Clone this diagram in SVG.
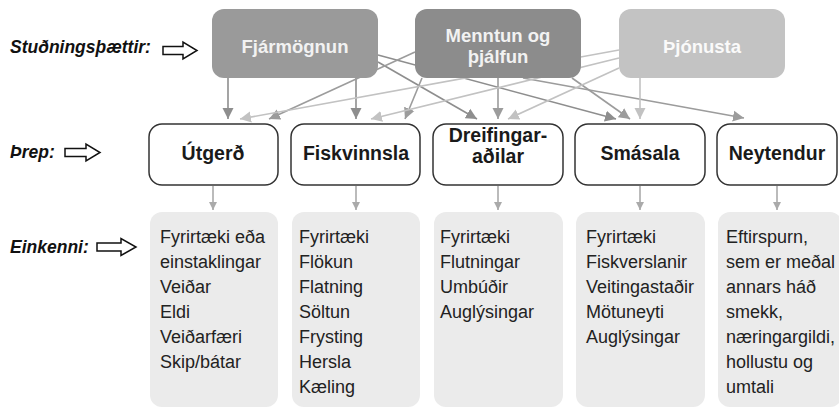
<svg xmlns="http://www.w3.org/2000/svg" width="839" height="409" viewBox="0 0 839 409">
<style>
.lbl{font-family:"Liberation Sans",Arial,sans-serif;font-weight:bold;font-style:italic;font-size:17.5px;fill:#111}
.top{font-family:"Liberation Sans",Arial,sans-serif;font-weight:bold;font-size:18.5px;fill:#f2f2f2;text-anchor:middle}
.mid{font-family:"Liberation Sans",Arial,sans-serif;font-weight:bold;font-size:19.5px;fill:#1a1a1a;text-anchor:middle}
.bot{font-family:"Liberation Sans",Arial,sans-serif;font-size:18px;fill:#222}
.midbox{fill:#fff;stroke:#333;stroke-width:1.5}
.botbox{fill:#ebebeb}
.hollow{fill:#fff;stroke:#111;stroke-width:1.5;stroke-linejoin:miter}
.c1{stroke:#8e8e8e;stroke-width:1.6;fill:none;marker-end:url(#a1)}
.c2{stroke:#9c9c9c;stroke-width:1.6;fill:none;marker-end:url(#a2)}
.c3{stroke:#c2c2c2;stroke-width:1.6;fill:none;marker-end:url(#a3)}
.c4{stroke:#aaa;stroke-width:1.6;fill:none;marker-end:url(#a4)}
</style>
<defs>
<marker id="a1" markerUnits="userSpaceOnUse" markerWidth="12" markerHeight="12" viewBox="0 0 12 12" refX="11" refY="6" orient="auto"><path d="M0,0.5 L11,6 L0,11.5 Z" fill="#8e8e8e"/></marker>
<marker id="a2" markerUnits="userSpaceOnUse" markerWidth="12" markerHeight="12" viewBox="0 0 12 12" refX="11" refY="6" orient="auto"><path d="M0,0.5 L11,6 L0,11.5 Z" fill="#9c9c9c"/></marker>
<marker id="a3" markerUnits="userSpaceOnUse" markerWidth="12" markerHeight="12" viewBox="0 0 12 12" refX="11" refY="6" orient="auto"><path d="M0,0.5 L11,6 L0,11.5 Z" fill="#c2c2c2"/></marker>
<marker id="a4" markerUnits="userSpaceOnUse" markerWidth="9" markerHeight="9" viewBox="0 0 9 9" refX="8" refY="4.5" orient="auto"><path d="M0,0.5 L8,4.5 L0,8.5 Z" fill="#aaa"/></marker>
</defs>
<rect width="839" height="409" fill="#fff"/>

<g id="row-labels">
<text class="lbl" x="10" y="53">Stuðningsþættir:</text>
<path class="hollow" d="M163,46.5 H183 V42 L197,50.5 L183,59 V54.5 H163 Z"/>
<text class="lbl" x="10" y="158">Þrep:</text>
<path class="hollow" d="M65,148.5 H86 V144 L100,152.5 L86,161 V156.5 H65 Z"/>
<text class="lbl" x="10" y="253">Einkenni:</text>
<path class="hollow" d="M97,243 H121 V238.5 L136,247 L121,255.5 V251 H97 Z"/>
</g>

<g id="connectors">
<line class="c1" x1="228" y1="78" x2="228" y2="119"/>
<line class="c1" x1="356" y1="78" x2="356" y2="119"/>
<line class="c1" x1="378" y1="62" x2="477" y2="119"/>
<line class="c1" x1="378" y1="55" x2="616" y2="119"/>
<line class="c2" x1="415" y1="52" x2="269" y2="119"/>
<line class="c2" x1="422" y1="78" x2="405" y2="119"/>
<line class="c2" x1="498" y1="78" x2="498" y2="119"/>
<line class="c2" x1="572" y1="78" x2="630" y2="119"/>
<line class="c2" x1="523" y1="78" x2="744" y2="118"/>
<line class="c3" x1="619" y1="50" x2="240" y2="119"/>
<line class="c3" x1="619" y1="58" x2="371" y2="119"/>
<line class="c3" x1="619" y1="68" x2="508" y2="119"/>
<line class="c3" x1="640" y1="78" x2="640" y2="119"/>
<line class="c4" x1="213" y1="186" x2="213" y2="210"/>
<line class="c4" x1="356" y1="186" x2="356" y2="210"/>
<line class="c4" x1="498" y1="186" x2="498" y2="210"/>
<line class="c4" x1="640" y1="186" x2="640" y2="210"/>
<line class="c4" x1="777" y1="186" x2="777" y2="210"/>
</g>

<g id="fjarmognun">
<rect x="212" y="9" width="166" height="69" rx="12" fill="#9a9a9a"/>
<text class="top" x="295" y="53">Fjármögnun</text>
</g>
<g id="menntun">
<rect x="415" y="9" width="166" height="69" rx="12" fill="#8c8c8c"/>
<text class="top" x="498" y="42">Menntun og</text>
<text class="top" x="498" y="63">þjálfun</text>
</g>
<g id="thjonusta">
<rect x="619" y="9" width="166" height="69" rx="12" fill="#c3c3c3"/>
<text class="top" x="702" y="53" style="fill:#fafafa">Þjónusta</text>
</g>

<g id="utgerd">
<rect class="midbox" x="149" y="124" width="129" height="61" rx="13"/>
<text class="mid" x="213" y="160">Útgerð</text>
</g>
<g id="fiskvinnsla">
<rect class="midbox" x="291" y="124" width="129" height="61" rx="13"/>
<text class="mid" x="356" y="160">Fiskvinnsla</text>
</g>
<g id="dreifingaradilar">
<rect class="midbox" x="433" y="124" width="130" height="61" rx="13"/>
<text class="mid" x="498" y="142">Dreifingar-</text>
<text class="mid" x="498" y="163">aðilar</text>
</g>
<g id="smasala">
<rect class="midbox" x="575" y="124" width="130" height="61" rx="13"/>
<text class="mid" x="640" y="160">Smásala</text>
</g>
<g id="neytendur">
<rect class="midbox" x="717" y="124" width="120" height="61" rx="13"/>
<text class="mid" x="777" y="160">Neytendur</text>
</g>

<g id="einkenni-utgerd">
<rect class="botbox" x="150" y="212" width="128" height="195" rx="12"/>
<text class="bot" x="160" y="243">Fyrirtæki eða</text>
<text class="bot" x="160" y="268">einstaklingar</text>
<text class="bot" x="160" y="293">Veiðar</text>
<text class="bot" x="160" y="318">Eldi</text>
<text class="bot" x="160" y="343">Veiðarfæri</text>
<text class="bot" x="160" y="368">Skip/bátar</text>
</g>
<g id="einkenni-fiskvinnsla">
<rect class="botbox" x="292" y="212" width="128" height="195" rx="12"/>
<text class="bot" x="299" y="243">Fyrirtæki</text>
<text class="bot" x="299" y="268">Flökun</text>
<text class="bot" x="299" y="293">Flatning</text>
<text class="bot" x="299" y="318">Söltun</text>
<text class="bot" x="299" y="343">Frysting</text>
<text class="bot" x="299" y="368">Hersla</text>
<text class="bot" x="299" y="393">Kæling</text>
</g>
<g id="einkenni-dreifing">
<rect class="botbox" x="434" y="212" width="129" height="195" rx="12"/>
<text class="bot" x="440" y="243">Fyrirtæki</text>
<text class="bot" x="440" y="268">Flutningar</text>
<text class="bot" x="440" y="293">Umbúðir</text>
<text class="bot" x="440" y="318">Auglýsingar</text>
</g>
<g id="einkenni-smasala">
<rect class="botbox" x="576" y="212" width="129" height="195" rx="12"/>
<text class="bot" x="586" y="243">Fyrirtæki</text>
<text class="bot" x="586" y="268">Fiskverslanir</text>
<text class="bot" x="586" y="293">Veitingastaðir</text>
<text class="bot" x="586" y="318">Mötuneyti</text>
<text class="bot" x="586" y="343">Auglýsingar</text>
</g>
<g id="einkenni-neytendur">
<rect class="botbox" x="718" y="212" width="124" height="195" rx="12"/>
<text class="bot" x="726" y="243">Eftirspurn,</text>
<text class="bot" x="726" y="268">sem er meðal</text>
<text class="bot" x="726" y="293">annars háð</text>
<text class="bot" x="726" y="318">smekk,</text>
<text class="bot" x="726" y="343">næringargildi,</text>
<text class="bot" x="726" y="368">hollustu og</text>
<text class="bot" x="726" y="393">umtali</text>
</g>
</svg>
